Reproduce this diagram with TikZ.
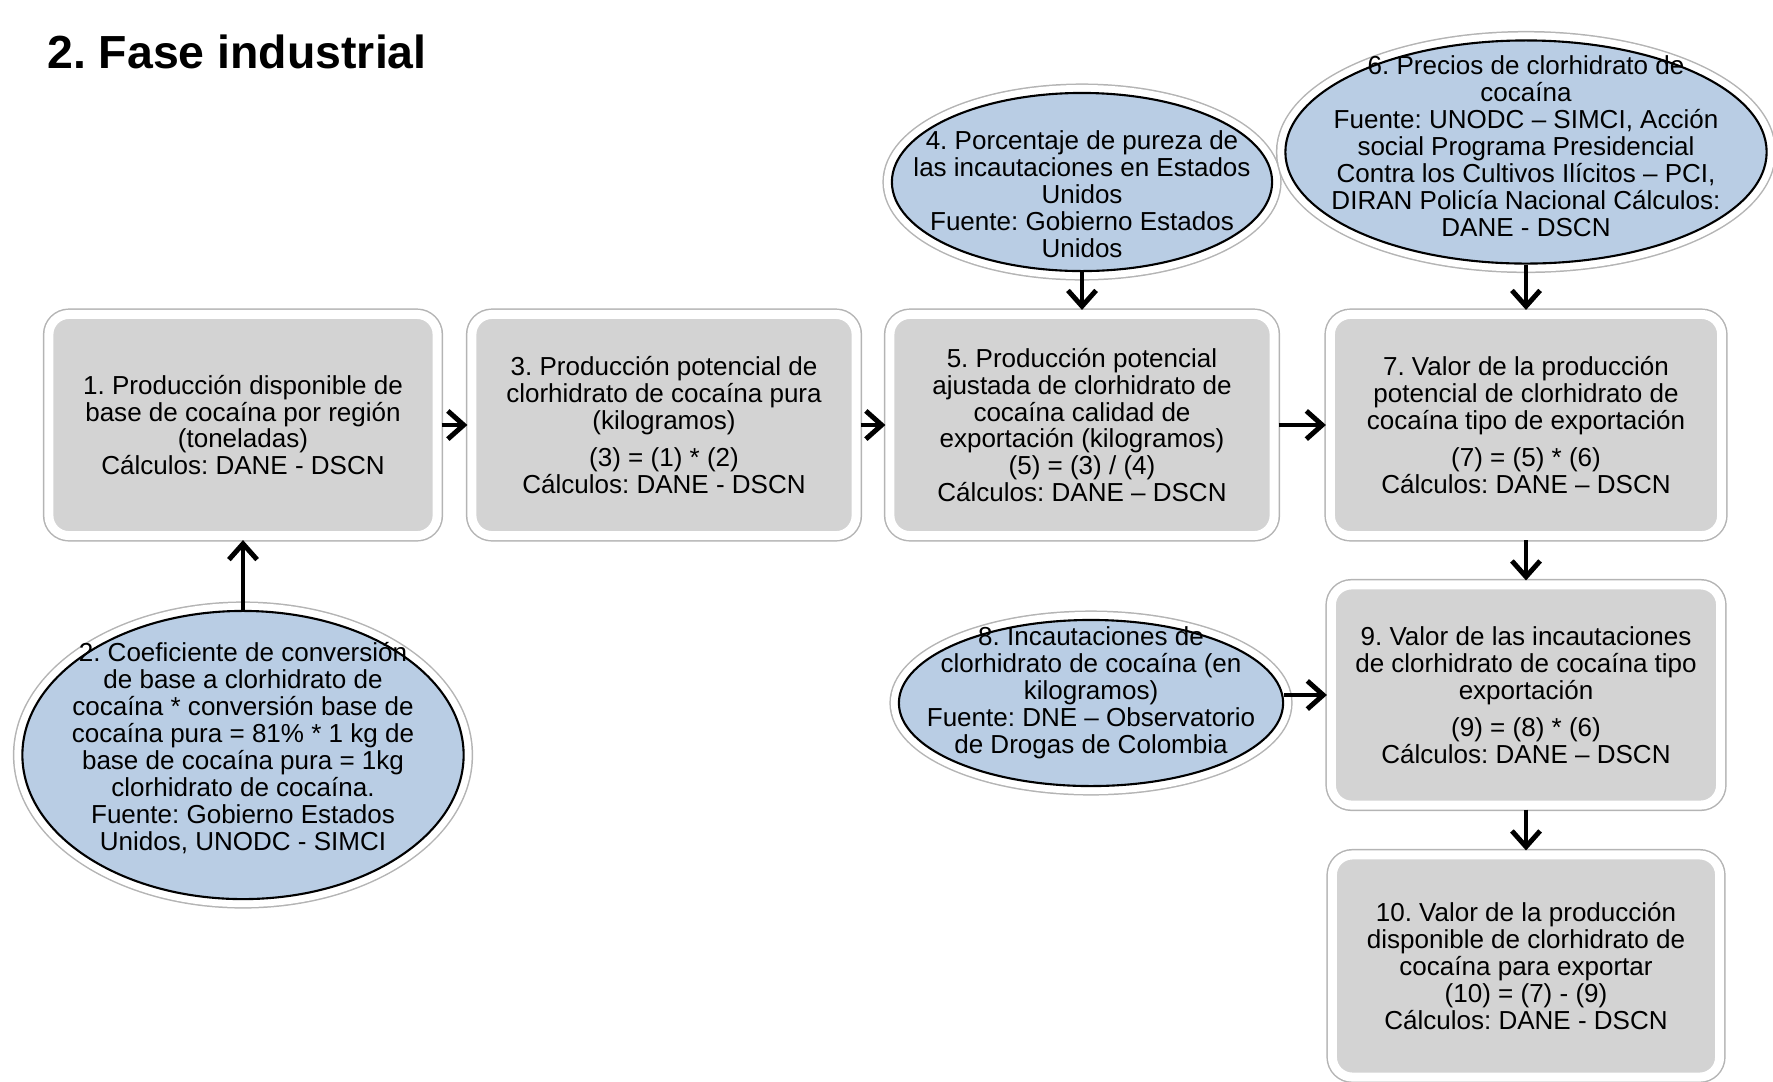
\documentclass[tikz,border=0pt]{standalone}
\usepackage{fontspec}
\setmainfont{Liberation Sans}
\usetikzlibrary{shapes.geometric}
\usetikzlibrary{arrows.meta}
\definecolor{boxgray}{RGB}{211,211,211}
\definecolor{ovalblue}{RGB}{185,205,228}
\definecolor{framegray}{RGB}{180,180,180}

\begin{document}
\frenchspacing
\begin{tikzpicture}
[x=0.01cm,y=-0.01cm,%
  every node/.style={font=\fontsize{7.4}{7.65}\selectfont,align=center},%
  box/.style={rectangle,rounded corners=0.2cm,fill=boxgray,draw=white,line width=0.09cm,
    preaction={draw=framegray,line width=0.12cm},minimum height=2.21cm},%
  oval/.style={ellipse,fill=ovalblue,draw=black,line width=0.6pt,
    preaction={draw=framegray,line width=0.19cm},preaction={draw=white,line width=0.16cm}},%
  link/.style={-{Straight Barb[length=4.5pt,width=8pt]},line width=1.4pt}]
\useasboundingbox (0,0) rectangle (1773,1081);
\node[font=\fontsize{13.2}{15}\selectfont\bfseries,anchor=base west] (title) at (35,68) {2. Fase industrial};
\node[oval,minimum width=4.41cm,minimum height=2.88cm,
  label={[yshift=0.07cm]center:2. Coeficiente de conversión\\de base a clorhidrato de\\cocaína * conversión base de\\cocaína pura = 81\% * 1 kg de\\base de cocaína pura = 1kg\\clorhidrato de cocaína.\\Fuente: Gobierno Estados\\Unidos, UNODC - SIMCI}]
  (e2) at (243,755) {};
\node[oval,minimum width=3.80cm,minimum height=1.78cm,
  label={[yshift=-0.12cm]center:4. Porcentaje de pureza de\\las incautaciones en Estados\\Unidos\\Fuente: Gobierno Estados\\Unidos}]
  (e4) at (1082,182) {};
\node[oval,minimum width=4.81cm,minimum height=2.23cm,
  label={[yshift=0.06cm]center:6. Precios de clorhidrato de\\cocaína\\Fuente: UNODC -- SIMCI, Acción\\social Programa Presidencial\\Contra los Cultivos Ilícitos -- PCI,\\DIRAN Policía Nacional  Cálculos:\\DANE - DSCN}]
  (e6) at (1526,152) {};
\node[oval,minimum width=3.84cm,minimum height=1.66cm,
  label={[yshift=0.1cm]center:8. Incautaciones de\\clorhidrato de cocaína (en\\kilogramos)\\Fuente: DNE -- Observatorio\\de Drogas de Colombia}]
  (e8) at (1091,703) {};
\node[box,minimum width=3.88cm] (b1) at (243,425)
  {1. Producción disponible de\\base de cocaína por región\\(toneladas)\\Cálculos: DANE - DSCN};
\node[box,minimum width=3.84cm] (b3) at (664,425)
  {3. Producción potencial de\\clorhidrato de cocaína pura\\(kilogramos)\\[3pt](3) = (1) * (2)\\Cálculos: DANE - DSCN};
\node[box,minimum width=3.84cm] (b5) at (1082,425)
  {5. Producción potencial\\ajustada de clorhidrato de\\cocaína calidad de\\exportación (kilogramos)\\(5) = (3) / (4)\\Cálculos: DANE -- DSCN};
\node[box,minimum width=3.91cm] (b7) at (1526,425)
  {7. Valor de la producción\\potencial de clorhidrato de\\cocaína tipo de exportación\\[3pt](7) = (5) * (6)\\Cálculos: DANE -- DSCN};
\node[box,minimum width=3.89cm,minimum height=2.20cm] (b9) at (1526,695)
  {9. Valor de las incautaciones\\de clorhidrato de cocaína tipo\\exportación\\[3pt](9) = (8) * (6)\\Cálculos: DANE -- DSCN};
\node[box,minimum width=3.87cm,minimum height=2.22cm] (b10) at (1526,966)
  {10. Valor de la producción\\disponible de clorhidrato de\\cocaína para exportar\\(10) = (7) - (9)\\Cálculos: DANE - DSCN};
\draw[link] (b1) -- (b3);
\draw[link] (b3) -- (b5);
\draw[link] (b5) -- (b7);
\draw[link] (e2) -- (b1);
\draw[link] (e4) -- (b5);
\draw[link] (e6) -- (b7);
\draw[link] (b7) -- (b9);
\draw[link] (e8.east |- b9.west) -- (b9.west);
\draw[link] (b9) -- (b10);
\end{tikzpicture}
\end{document}
